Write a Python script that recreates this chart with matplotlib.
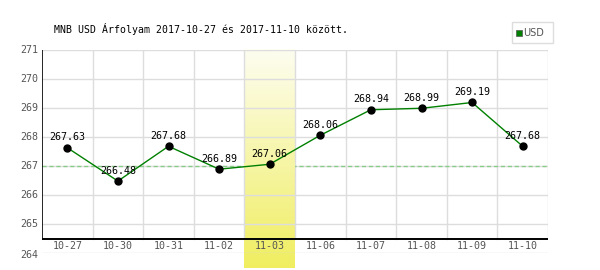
import numpy as np
import matplotlib.pyplot as plt
from matplotlib.colors import LinearSegmentedColormap

# data
dates = ["10-27", "10-30", "10-31", "11-02", "11-03", "11-06", "11-07", "11-08", "11-09", "11-10"]
rates = [267.63, 266.48, 267.68, 266.89, 267.06, 268.06, 268.94, 268.99, 269.19, 267.68]
yticks = [264, 265, 266, 267, 268, 269, 270, 271]
ref_level = 267.0
highlight = 4

mono = "DejaVu Sans Mono"
grid_c = "#dddddd"
fs = 7.2

fig = plt.figure(figsize=(6, 2.7), dpi=100)
ax = fig.add_axes([42 / 600, 1 - 253 / 270, 506 / 600, 203 / 270])
n = len(dates)
x = np.arange(n)
ax.set_xlim(-0.5, n - 0.5)
ax.set_ylim(264, 271)
for s in ax.spines.values():
    s.set_visible(False)
ax.set_xticks([])
ax.set_yticks([])

# highlight column with vertical gradient
grad = np.linspace(0, 1, 100).reshape(-1, 1)
cmap = LinearSegmentedColormap.from_list("hl", ["#fdfdf0", "#f0ee60"])
ax.imshow(grad, cmap=cmap, aspect="auto", origin="upper",
          extent=[highlight - 0.5, highlight + 0.5, 263.48, 271], clip_on=False, zorder=0)

# grid
for y in yticks:
    ax.plot([-0.5, n - 0.5], [y, y], color=grid_c, lw=1, zorder=1)
    if y > 264:
        ax.text(-0.58, y, str(y), ha="right", va="center", fontsize=fs, family=mono, color="#555555")
ax.text(-0.58, 263.93, "264", ha="right", va="center", fontsize=fs, family=mono, color="#555555")
for k in range(1, n + 1):
    ax.plot([k - 0.5, k - 0.5], [264.5, 271], color=grid_c, lw=1, zorder=1)

# reference line (hidden behind the highlighted column)
ax.plot([-0.5, n - 0.5], [ref_level, ref_level], color="#88cc88", lw=1, ls=(0, (3, 2)), zorder=1)
ax.imshow(grad[int(100 * (271 - 267.1) / 7.52):int(100 * (271 - 266.9) / 7.52)], cmap=cmap,
          aspect="auto", extent=[highlight - 0.5, highlight + 0.5, 266.9, 267.1],
          vmin=0, vmax=1, zorder=1.5)

# axes lines
ax.plot([-0.5, n - 0.5], [264.5, 264.5], color="black", lw=1.4, zorder=3)
ax.plot([-0.5, -0.5], [264.5, 271], color="black", lw=1.2, zorder=3)

for i, d in enumerate(dates):
    ax.text(i, 264.25, d, ha="center", va="center", fontsize=fs, family=mono, color="#555555")

# series
ax.plot(x, rates, color="green", lw=1, zorder=4)
ax.plot(x, rates, "o", color="black", ms=5, zorder=5)
for xi, v in zip(x, rates):
    ax.text(xi, v + 0.25, f"{v:.2f}", ha="center", va="baseline", fontsize=fs, family=mono,
            color="black", zorder=6)

fig.text(54 / 600, 1 - 29 / 270, "MNB USD Árfolyam 2017-10-27 és 2017-11-10 között.",
         fontsize=7.1, family=mono, va="center", ha="left")

# legend box
lx0, ly0, lw, lh = 512, 22, 41, 21
fig.patches.append(plt.Rectangle((lx0 / 600, 1 - (ly0 + lh) / 270), lw / 600, lh / 270,
                                 transform=fig.transFigure, fill=False, ec="#dddddd", lw=1))
fig.patches.append(plt.Rectangle((516 / 600, 1 - 36 / 270), 6 / 600, 6 / 270,
                                 transform=fig.transFigure, fc="green", ec="#555555", lw=0.5))
fig.text(523.5 / 600, 1 - 32.5 / 270, "USD", fontsize=7, family="DejaVu Sans", color="#555555",
         va="center", ha="left")

fig.savefig("out.png", dpi=100)
